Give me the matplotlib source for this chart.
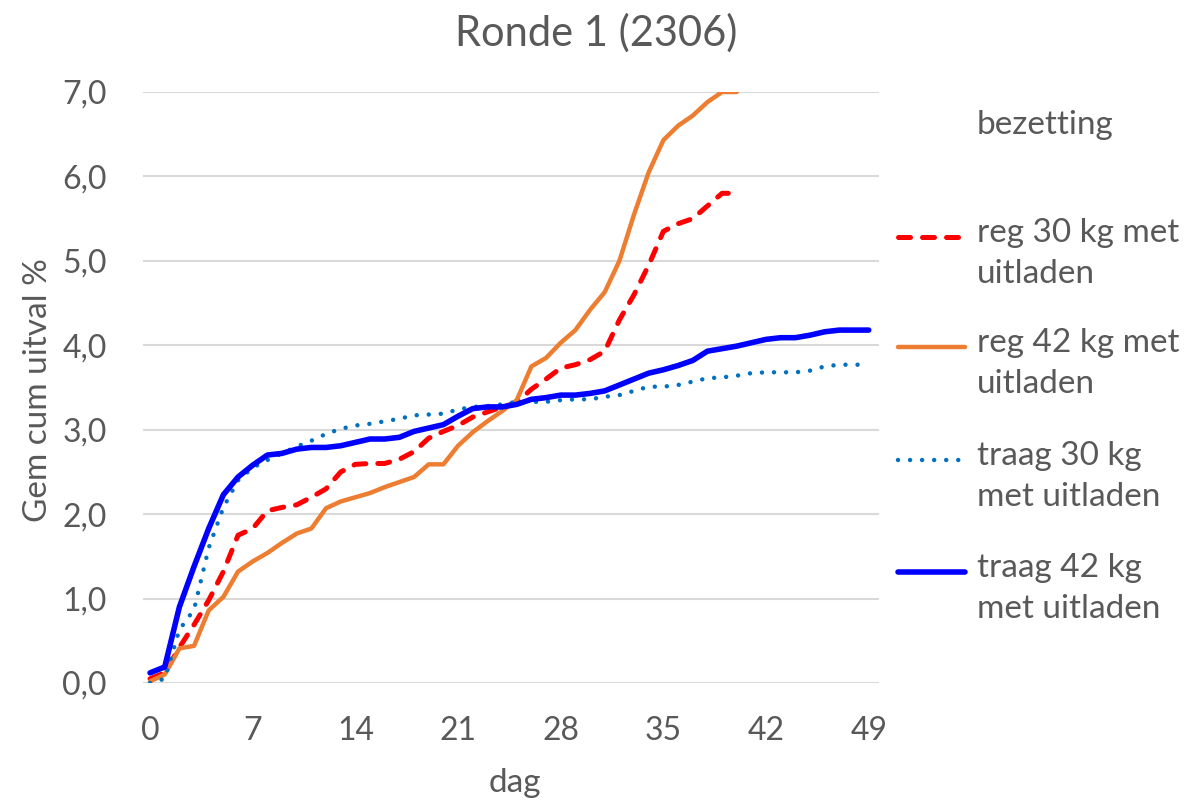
import matplotlib
matplotlib.use("Agg")
import matplotlib.pyplot as plt
from matplotlib.lines import Line2D
from matplotlib.ticker import FuncFormatter, MultipleLocator

plt.rcParams['font.family'] = ['Lato', 'DejaVu Sans']

days_reg = list(range(0, 41))
days_traag = list(range(0, 50))

reg30 = [0.05, 0.12, 0.42, 0.69, 0.98, 1.32, 1.75, 1.83, 2.04, 2.08,
         2.11, 2.20, 2.30, 2.50, 2.59, 2.60, 2.60, 2.65, 2.74, 2.90,
         2.98, 3.05, 3.15, 3.21, 3.27, 3.32, 3.48, 3.60, 3.73, 3.77,
         3.83, 3.93, 4.30, 4.60, 4.95, 5.35, 5.44, 5.50, 5.65, 5.80, 5.80]
reg42 = [0.02, 0.10, 0.41, 0.44, 0.86, 1.02, 1.32, 1.44, 1.54, 1.66,
         1.77, 1.83, 2.07, 2.15, 2.20, 2.25, 2.32, 2.38, 2.44, 2.59,
         2.59, 2.81, 2.97, 3.10, 3.22, 3.35, 3.75, 3.85, 4.03, 4.18,
         4.42, 4.63, 5.00, 5.55, 6.05, 6.43, 6.60, 6.72, 6.88, 7.00, 7.00]
traag30 = [0.00, 0.05, 0.63, 0.87, 1.60, 2.08, 2.40, 2.55, 2.64, 2.72,
           2.80, 2.87, 2.95, 3.01, 3.05, 3.07, 3.10, 3.13, 3.17, 3.18,
           3.19, 3.24, 3.27, 3.28, 3.30, 3.33, 3.33, 3.33, 3.35, 3.36,
           3.36, 3.39, 3.41, 3.46, 3.51, 3.51, 3.53, 3.57, 3.61, 3.62,
           3.64, 3.67, 3.68, 3.68, 3.68, 3.70, 3.75, 3.77, 3.77, 3.77]
traag42 = [0.12, 0.19, 0.90, 1.38, 1.83, 2.23, 2.44, 2.58, 2.70, 2.72,
           2.77, 2.79, 2.79, 2.81, 2.85, 2.89, 2.89, 2.91, 2.98, 3.02,
           3.06, 3.16, 3.25, 3.27, 3.27, 3.30, 3.36, 3.38, 3.41, 3.41,
           3.43, 3.46, 3.53, 3.60, 3.67, 3.71, 3.76, 3.82, 3.93, 3.96,
           3.99, 4.03, 4.07, 4.09, 4.09, 4.12, 4.16, 4.18, 4.18, 4.18]

labels = ["reg 30 kg met\nuitladen", "reg 42 kg met\nuitladen",
          "traag 30 kg\nmet uitladen", "traag 42 kg\nmet uitladen"]
x_ticks = [0, 7, 14, 21, 28, 35, 42, 49]

W, H = 1189, 806
fig = plt.figure(figsize=(W / 100, H / 100), dpi=100)
ax = fig.add_axes([143 / W, 1 - 683 / H, (879 - 143) / W, (683 - 92) / H])

grey = '#595959'
styles = [
    dict(color='#FF0000', lw=3.6, dashes=(2.4, 2.4), dash_capstyle='round'),
    dict(color='#ED7D31', lw=3.2, solid_capstyle='round'),
    dict(color='#0070C0', lw=3.2, dashes=(0.01, 2.7), dash_capstyle='round'),
    dict(color='#0000FF', lw=4.0, solid_capstyle='round'),
]
series = [(days_reg, reg30), (days_reg, reg42), (days_traag, traag30), (days_traag, traag42)]
for (x, y), st in zip(series, styles):
    ax.plot(x, y, solid_joinstyle='round', **st)

ax.set_xlim(-0.48, 49.7)
ax.set_ylim(0, 7)
ax.set_xticks(x_ticks)
ax.yaxis.set_major_locator(MultipleLocator(1))
ax.yaxis.set_major_formatter(FuncFormatter(lambda v, p: f"{v:.1f}".replace('.', ',')))
ax.grid(axis='y', color='#D9D9D9', lw=1.5)
ax.set_axisbelow(True)
for s in ax.spines.values():
    s.set_visible(False)
ax.tick_params(length=0, labelsize=23, labelcolor=grey)
ax.tick_params(axis='y', pad=26)
ax.tick_params(axis='x', pad=24)

fig.text(596 / W, 1 - 33 / H, "Ronde 1 (2306)", ha='center', va='center', fontsize=30, color=grey)
fig.text(38 / W, 1 - 390 / H, "Gem cum uitval %", rotation=90, ha='center', va='center', fontsize=24, color=grey)
fig.text(515 / W, 1 - 783 / H, "dag", ha='center', va='center', fontsize=24, color=grey)

# legend drawn by hand so the handle sits at the first text line
fig.text(977 / W, 1 - 125 / H, "bezetting", ha='left', va='center', fontsize=24, color=grey)
first_lines = [237, 347, 460, 572]
for lab, st, yy in zip(labels, styles, first_lines):
    fig.add_artist(Line2D([898 / W, 965 / W], [1 - yy / H, 1 - yy / H], transform=fig.transFigure, **st))
    fig.text(977 / W, 1 - (yy - 19) / H, lab, ha='left', va='top', fontsize=24,
             color=grey, linespacing=1.45)

fig.savefig("out.png", dpi=100)
